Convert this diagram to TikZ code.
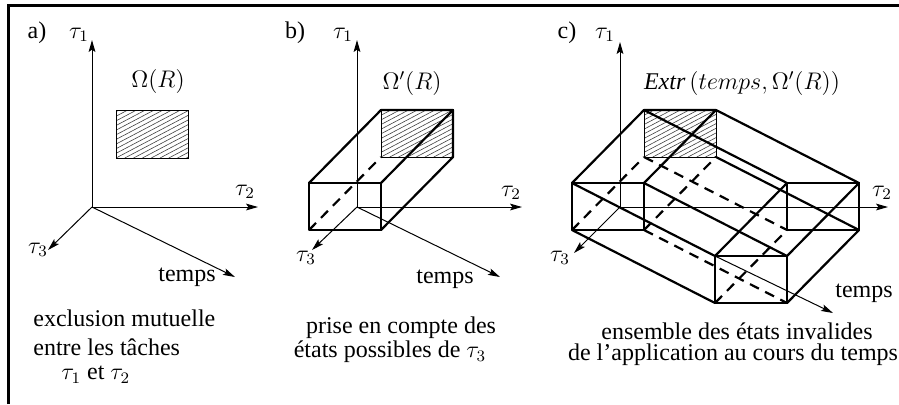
\documentclass[tikz,border=0pt]{standalone}
\usepackage{fontspec}
\setmainfont{Liberation Serif}
\usetikzlibrary{arrows.meta}
\newcommand\myhatch[2]{%
  \begin{scope}
    \clip (#1) rectangle (#2);
    \foreach \k in {-11,...,9} {\draw[hatch] (#1) ++(\k*8.8,0) -- ++(110,-58);}
  \end{scope}
  \draw[hb] (#1) rectangle (#2);
}
\begin{document}
\begin{tikzpicture}[x=0.5pt,y=-0.5pt,
  ax/.style={line width=0.5pt,-{Stealth[length=6pt,width=3.4pt,inset=1.2pt]}},
  edge/.style={line width=1.1pt,line join=round,line cap=round},
  hid/.style={line width=1.1pt,dash pattern=on 5pt off 3.5pt},
  hb/.style={line width=0.45pt},
  hatch/.style={line width=0.3pt,black!75},
  lab/.style={font=\fontsize{12}{14}\selectfont,inner sep=0pt},
]
\useasboundingbox (0,0) rectangle (899,404);
\draw[line width=1.35pt] (8.7,404) -- (8.7,5.7) -- (899,5.7);

% ---------------- panel a ----------------
\begin{scope}[shift={(92,207)}]
  \coordinate (aO) at (0,0);
  \coordinate (aT1) at (0,-167);
  \coordinate (aT2) at (166,0);
  \coordinate (aT3) at (-44,43);
  \coordinate (aTe) at (143,70);
  \coordinate (aBbl) at (24,-49);
  \coordinate (aBtr) at (96,-97);
  \myhatch{aBbl}{aBtr}
  \draw[ax] (aO) -- (aT1);
  \draw[ax] (aO) -- (aT2);
  \draw[ax] (aO) -- (aT3);
  \draw[ax] (aO) -- (aTe);
\end{scope}
\node[lab] (la) at (37,33) {a)};
\node[lab] (la1) at (79,35) {$\tau_1$};
\node[lab] (laO) at (158,81) {$\Omega(R)$};
\node[lab] (la2) at (245,192) {$\tau_2$};
\node[lab] (la3) at (38,250) {$\tau_3$};
\node[lab] (lat) at (187,277) {temps};
\node[lab,anchor=west] (lax1) at (33,318) {exclusion mutuelle};
\node[lab,anchor=west] (lax2) at (33,347) {entre les tâches};
\node[lab,anchor=west] (lax3) at (61,375) {$\tau_1$ et $\tau_2$};

% ---------------- panel b ----------------
\begin{scope}[shift={(357,207)}]
  \coordinate (bO) at (0,0);
  \coordinate (bT1) at (0,-167);
  \coordinate (bT2) at (165,0);
  \coordinate (bT3) at (-45,43);
  \coordinate (bTe) at (143,70);
  \coordinate (bFtl) at (-48,-24);
  \coordinate (bFtr) at (24,-24);
  \coordinate (bFbr) at (24,23);
  \coordinate (bFbl) at (-48,23);
  \coordinate (bBtl) at (24,-97);
  \coordinate (bBtr) at (96,-97);
  \coordinate (bBbr) at (96,-50);
  \coordinate (bBbl) at (24,-50);
  \myhatch{bBbl}{bBtr}
  \draw[ax] (bO) -- (bT1);
  \draw[ax] (bO) -- (bT2);
  \draw[ax] (bO) -- (bT3);
  \draw[ax] (bO) -- (bTe);
  \draw[edge] (bFtl) -- (bFtr) -- (bFbr) -- (bFbl) -- cycle;
  \draw[edge] (bFtl) -- (bBtl) -- (bBtr) -- (bBbr) -- (bFbr);
  \draw[edge] (bFtr) -- (bBtr);
  \draw[hid] (bFbl) -- (bBbl);
\end{scope}
\node[lab] (lb) at (295,33) {b)};
\node[lab] (lb1) at (343,35) {$\tau_1$};
\node[lab] (lbO) at (412,83) {$\Omega'(R)$};
\node[lab] (lb2) at (511,193) {$\tau_2$};
\node[lab] (lb3) at (306,258) {$\tau_3$};
\node[lab] (lbt) at (445,279) {temps};
\node[lab] (lbx1) at (401,328) {prise en compte des};
\node[lab] (lbx2) at (390,352) {états possibles de $\tau_3$};

% ---------------- panel c ----------------
\begin{scope}[shift={(620,207)}]
  \coordinate (cO) at (0,0);
  \coordinate (cT1) at (0,-165);
  \coordinate (cT2) at (268,0);
  \coordinate (cT3) at (-46,46);
  \coordinate (cTe) at (213,106);
  \coordinate (cFtl) at (-48,-24);
  \coordinate (cFtr) at (24,-24);
  \coordinate (cFbr) at (24,23);
  \coordinate (cFbl) at (-48,23);
  \coordinate (cBtl) at (24,-97);
  \coordinate (cBtr) at (96,-97);
  \coordinate (cBbr) at (96,-50);
  \coordinate (cBbl) at (24,-50);
  \coordinate (cGtl) at (95,49);
  \coordinate (cGtr) at (167,49);
  \coordinate (cGbr) at (167,96);
  \coordinate (cGbl) at (95,96);
  \coordinate (cHtl) at (167,-24);
  \coordinate (cHtr) at (239,-24);
  \coordinate (cHbr) at (239,23);
  \coordinate (cHbl) at (167,23);
  \myhatch{cBbl}{cBtr}
  \draw[ax] (cO) -- (cT1);
  \draw[ax] (cO) -- (cT2);
  \draw[ax] (cO) -- (cT3);
  \draw[ax] (cGtl) -- (cTe);
  % solid
  \draw[edge] (cFtl) -- (cFtr) -- (cFbr) -- (cFbl) -- cycle;
  \draw[edge] (cFtl) -- (cBtl) -- (cBtr) -- (cFtr);
  \draw[edge] (cGtl) -- (cGtr) -- (cGbr) -- (cGbl) -- cycle;
  \draw[edge] (cHtl) -- (cHtr) -- (cHbr) -- (cHbl) -- cycle;
  \draw[edge] (cFtl) -- (cGtl);
  \draw[edge] (cFtr) -- (cGtr);
  \draw[edge] (cFbl) -- (cGbl);
  \draw[edge] (cBtl) -- (cHtl);
  \draw[edge] (cBtr) -- (cHtr);
  \draw[edge] (cBbr) -- (cHbr);
  \draw[edge] (cGtl) -- (cHtl);
  \draw[edge] (cGtr) -- (cHtr);
  \draw[edge] (cGbr) -- (cHbr);
  % hidden
  \draw[hid] (cFbr) -- (cBbr);
  \draw[hid] (cFbl) -- (cBbl);
  \draw[hid] (cFbr) -- (cGbr);
  \draw[hid] (cBbl) -- (cHbl);
  \draw[hid] (cGbl) -- (cHbl);
\end{scope}
\node[lab] (lc) at (567,33) {c)};
\node[lab] (lc1) at (605,35) {$\tau_1$};
\node[lab] (lcE) at (742,83) {$\textit{Extr}\,(temps,\Omega'(R))$};
\node[lab] (lc2) at (882,193) {$\tau_2$};
\node[lab] (lc3) at (560,258) {$\tau_3$};
\node[lab] (lct) at (864,293) {temps};
\node[lab] (lcx1) at (737,331) {ensemble des états invalides};
\node[lab] (lcx2) at (733,355) {de l’application au cours du temps};
\end{tikzpicture}
\end{document}
